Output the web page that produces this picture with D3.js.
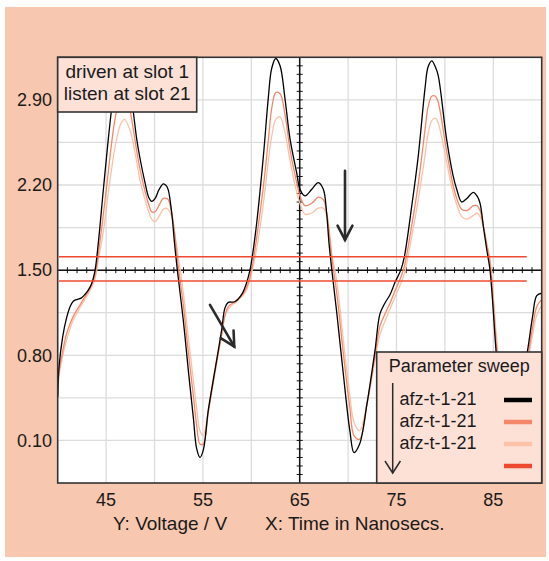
<!DOCTYPE html>
<html><head><meta charset="utf-8">
<script src="https://cdn.jsdelivr.net/npm/d3@7"></script>
<style>
html,body{margin:0;padding:0;background:#fff;}
svg{display:block;font-family:"Liberation Sans",Arial,sans-serif;}
</style></head>
<body>
<svg id="chart" width="549" height="561"></svg>
<script>
// ---- data ----
const time = [40.00,40.13,40.51,40.89,41.28,41.61,42.04,42.42,42.81,43.19,43.51,43.86,44.19,44.72,45.23,45.53,45.96,46.44,46.63,46.91,47.39,47.81,48.16,48.50,49.02,49.40,49.71,50.07,50.45,50.91,51.21,51.42,51.78,52.07,52.36,52.97,53.49,54.01,54.36,54.70,55.04,55.56,56.25,56.94,57.28,57.62,58.29,59.01,59.53,59.86,60.10,60.56,61.25,61.75,62.11,62.53,62.97,63.48,64.00,64.69,65.03,65.55,66.25,66.92,67.44,67.78,68.03,68.32,68.83,69.50,70.18,70.61,71.19,71.95,72.78,73.29,73.81,74.34,74.85,75.44,75.81,76.58,77.25,77.94,78.26,78.64,79.02,79.31,80.17,80.84,81.22,81.74,82.27,82.94,83.32,83.63,83.99,84.32,84.66,85.28,85.81,86.19,86.57,87.05,87.62,88.10,88.58,89.06,89.49,90.01];
const sweepBlack = [0.46,0.70,0.95,1.10,1.20,1.245,1.26,1.27,1.30,1.34,1.39,1.50,1.72,2.165,2.58,2.80,3.08,3.21,3.22,3.19,3.03,2.80,2.58,2.42,2.22,2.10,2.065,2.09,2.16,2.21,2.195,2.16,1.97,1.72,1.50,1.09,0.68,0.29,0.03,-0.04,0.02,0.35,0.68,1.01,1.19,1.235,1.24,1.30,1.40,1.50,1.61,1.89,2.44,2.91,3.16,3.24,3.18,2.91,2.58,2.30,2.165,2.11,2.165,2.22,2.165,1.97,1.72,1.50,1.15,0.65,0.18,0.00,0.07,0.40,0.84,1.14,1.23,1.30,1.40,1.50,1.61,2.03,2.44,2.99,3.17,3.22,3.17,3.10,2.58,2.28,2.165,2.06,2.09,2.14,2.11,2.05,1.85,1.67,1.50,0.84,0.35,0.08,0.00,0.12,0.45,0.66,0.86,1.12,1.29,1.31];
const sweepSalmon = [0.46,0.66,0.83,0.97,1.06,1.12,1.18,1.23,1.28,1.33,1.38,1.46,1.63,1.96,2.31,2.52,2.76,2.91,2.94,2.94,2.84,2.66,2.48,2.33,2.15,2.04,1.98,1.98,2.03,2.09,2.09,2.08,1.97,1.81,1.59,1.22,0.83,0.47,0.22,0.07,0.07,0.33,0.66,0.97,1.13,1.20,1.24,1.29,1.36,1.44,1.53,1.77,2.19,2.56,2.83,2.96,2.95,2.78,2.49,2.22,2.11,2.03,2.05,2.10,2.08,1.98,1.82,1.60,1.31,0.82,0.37,0.14,0.11,0.40,0.80,1.04,1.14,1.23,1.33,1.44,1.53,1.87,2.21,2.65,2.84,2.93,2.93,2.88,2.48,2.20,2.09,2.00,1.99,2.03,2.03,1.99,1.86,1.71,1.56,0.92,0.46,0.20,0.11,0.16,0.43,0.62,0.80,1.03,1.20,1.26];
const sweepLight = [0.46,0.63,0.79,0.92,1.02,1.09,1.15,1.21,1.26,1.31,1.36,1.43,1.58,1.82,2.14,2.31,2.53,2.69,2.72,2.74,2.67,2.54,2.39,2.24,2.08,1.98,1.92,1.90,1.94,2.00,2.01,2.00,1.94,1.81,1.66,1.32,0.95,0.60,0.36,0.18,0.14,0.36,0.69,0.97,1.12,1.18,1.23,1.28,1.34,1.42,1.50,1.68,2.05,2.39,2.60,2.74,2.76,2.63,2.40,2.14,2.05,1.96,1.97,2.01,2.01,1.95,1.84,1.63,1.41,0.93,0.47,0.25,0.18,0.40,0.76,0.97,1.08,1.18,1.28,1.39,1.47,1.78,2.08,2.44,2.62,2.73,2.75,2.71,2.39,2.14,2.04,1.94,1.92,1.95,1.97,1.94,1.85,1.72,1.59,1.00,0.56,0.30,0.19,0.21,0.42,0.59,0.75,0.97,1.13,1.21];
const thresholds = [1.61, 1.41];
const thresholdSpan = [40.13, 88.45];
const xTickLabels = [45, 55, 65, 75, 85];
const yTickLabels = [0.10, 0.80, 1.50, 2.20, 2.90];
const legendLabels = ["afz-t-1-21", "afz-t-1-21", "afz-t-1-21", ""];
const infoLines = ["driven at slot 1", "listen at slot 21"];

// ---- styles ----
const C = {black:"#000000", salmon:"#f4876a", light:"#fcc2a8", red:"#ef4a2f",
           bg:"#f8c7af", box:"#fde1d6", grid:"#dcdcdc", frame:"#333333", ink:"#1a1a1a"};

const svg = d3.select("#chart");
const L = 57.7, R = 541.7, T = 57.3, B = 483;
const x = d3.scaleLinear().domain([40, 90]).range([L, R]);
const y = d3.scaleLinear().domain([-0.25, 3.25]).range([B, T]);

svg.append("rect").attr("x",5).attr("y",7).attr("width",541).attr("height",550).attr("fill",C.bg);
svg.append("rect").attr("x",L).attr("y",T).attr("width",R-L).attr("height",B-T).attr("fill","#fff");

svg.append("defs").append("clipPath").attr("id","clip")
  .append("rect").attr("x",L).attr("y",T).attr("width",R-L).attr("height",B-T);

// grid
const g = svg.append("g");
g.selectAll(".vg").data(d3.range(45, 90, 5)).join("line")
  .attr("x1",d=>x(d)).attr("x2",d=>x(d)).attr("y1",T).attr("y2",B)
  .attr("stroke",C.grid).attr("stroke-width",1.3);
g.selectAll(".hg").data(d3.range(0, 9).map(i => -0.25 + 0.35*(i+1))).join("line")
  .attr("x1",L).attr("x2",R).attr("y1",d=>y(d)).attr("y2",d=>y(d))
  .attr("stroke",C.grid).attr("stroke-width",1.3);

// crosshair axes with minor ticks
const ax = svg.append("g").attr("stroke","#111");
ax.append("line").attr("x1",L).attr("x2",R).attr("y1",y(1.5)).attr("y2",y(1.5)).attr("stroke-width",1.5);
ax.append("line").attr("x1",x(65)).attr("x2",x(65)).attr("y1",T).attr("y2",B).attr("stroke-width",1.5);
ax.selectAll(".xt").data(d3.range(41, 90, 1)).join("line")
  .attr("x1",d=>x(d)).attr("x2",d=>x(d)).attr("y1",y(1.5)-3).attr("y2",y(1.5)+3).attr("stroke-width",1);
const yMinor = d3.range(-25, 26).map(i => 1.5 + i*0.07).filter(v => v > -0.24 && v < 3.24);
ax.selectAll(".yt").data(yMinor).join("line")
  .attr("x1",x(65)-3).attr("x2",x(65)+3).attr("y1",d=>y(d)).attr("y2",d=>y(d)).attr("stroke-width",1);

// curves
const line = d3.line().x((d,i)=>x(time[i])).y(d=>y(d)).curve(d3.curveCatmullRom.alpha(0.5));
const curves = svg.append("g").attr("clip-path","url(#clip)");
[[sweepLight,C.light],[sweepSalmon,C.salmon],[sweepBlack,C.black]].forEach(([s,c])=>{
  curves.append("path").attr("d",line(s)).attr("fill","none").attr("stroke",c).attr("stroke-width",1.3);
});

// thresholds
svg.selectAll(".thr").data(thresholds).join("line")
  .attr("x1",x(thresholdSpan[0])).attr("x2",x(thresholdSpan[1]))
  .attr("y1",d=>y(d)).attr("y2",d=>y(d)).attr("stroke",C.red).attr("stroke-width",1.5);

// frame
svg.append("rect").attr("x",L).attr("y",T).attr("width",R-L).attr("height",B-T)
  .attr("fill","none").attr("stroke",C.frame).attr("stroke-width",1.6);

// tick labels
svg.selectAll(".xl").data(xTickLabels).join("text")
  .attr("x",d=>x(d)).attr("y",506).attr("text-anchor","middle")
  .attr("font-size",18).attr("fill",C.ink).text(d=>d);
svg.selectAll(".yl").data(yTickLabels).join("text")
  .attr("x",52).attr("y",d=>y(d)).attr("dy","0.35em").attr("text-anchor","end")
  .attr("font-size",18).attr("fill",C.ink).text(d=>d3.format(".2f")(d));

svg.append("text").attr("x",113).attr("y",530).attr("font-size",19).attr("fill",C.ink).text("Y: Voltage / V");
svg.append("text").attr("x",265).attr("y",530).attr("font-size",19).attr("fill",C.ink).text("X: Time in Nanosecs.");

// info box
svg.append("rect").attr("x",L).attr("y",T).attr("width",139).attr("height",112-T)
  .attr("fill",C.box).attr("stroke",C.frame).attr("stroke-width",1.6);
svg.selectAll(".info").data(infoLines).join("text")
  .attr("x",L+69.5).attr("y",(d,i)=>78+22*i).attr("text-anchor","middle")
  .attr("font-size",19).attr("fill",C.ink).text(d=>d);

// arrows (data coordinates)
function arrow(x1,y1,x2,y2,w,head){
  const px1=x(x1),py1=y(y1),px2=x(x2),py2=y(y2);
  const a=Math.atan2(py2-py1,px2-px1), s=Math.PI/6.5;
  const gA=svg.append("g").attr("stroke","#2b2b2b").attr("stroke-width",w).attr("fill","none").attr("stroke-linecap","round");
  gA.append("line").attr("x1",px1).attr("y1",py1).attr("x2",px2).attr("y2",py2);
  gA.append("path").attr("d",`M${px2-head*Math.cos(a-s)},${py2-head*Math.sin(a-s)}L${px2},${py2}L${px2-head*Math.cos(a+s)},${py2-head*Math.sin(a+s)}`);
}
arrow(69.68,2.316,69.68,1.749,2.6,16);
arrow(55.73,1.215,58.24,0.872,2.6,16);

// legend
const lg = svg.append("g");
const lx=376.7, ly=352;
lg.append("rect").attr("x",lx).attr("y",ly).attr("width",R-lx).attr("height",B-ly)
  .attr("fill",C.box).attr("stroke",C.frame).attr("stroke-width",1.6);
lg.append("text").attr("x",(lx+R)/2).attr("y",372).attr("text-anchor","middle")
  .attr("font-size",18).attr("fill",C.ink).text("Parameter sweep");
const swatch=[C.black,C.salmon,C.light,C.red];
legendLabels.forEach((t,i)=>{
  const cy=400+22*i;
  lg.append("text").attr("x",399.5).attr("y",cy+5).attr("font-size",18).attr("fill",C.ink).text(t);
  lg.append("line").attr("x1",504).attr("x2",532).attr("y1",cy).attr("y2",cy)
    .attr("stroke",swatch[i]).attr("stroke-width",4.5);
});
const ag=lg.append("g").attr("stroke","#2b2b2b").attr("stroke-width",1.5).attr("fill","none");
ag.append("line").attr("x1",392.7).attr("x2",392.7).attr("y1",383).attr("y2",473);
ag.append("path").attr("d","M385,461L392.7,473L400.4,461");
</script>
</body></html>
